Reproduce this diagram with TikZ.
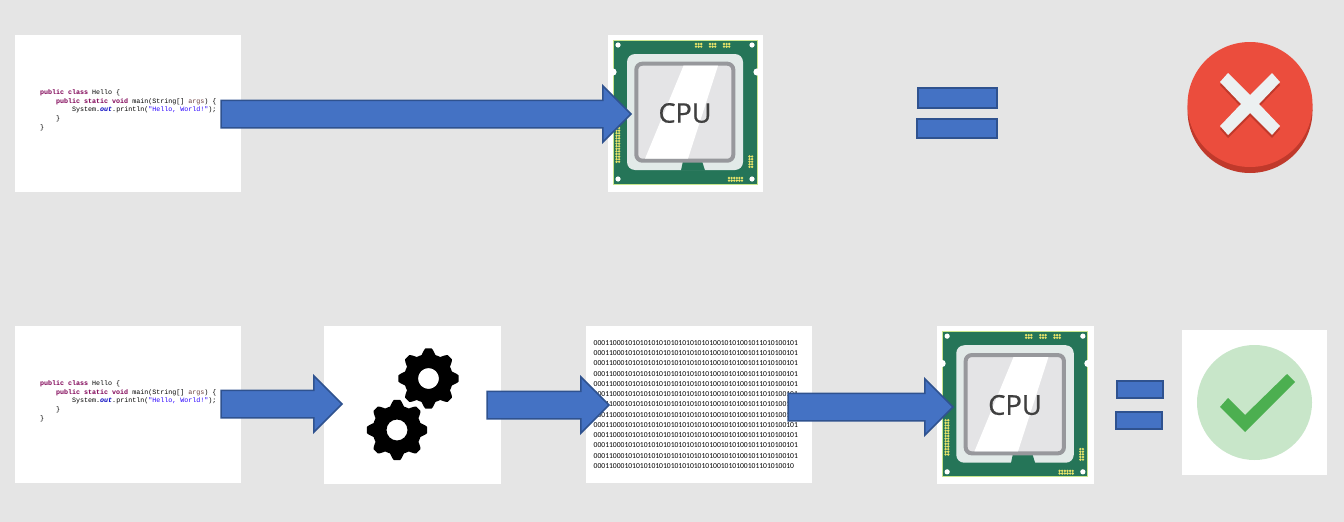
\documentclass[tikz,border=0pt]{standalone}
\usepackage{fontspec}
\setmainfont{Carlito}
\newfontfamily\codefont{Liberation Mono}
\newfontfamily\cpufont[FakeBold=0.7]{Open Sans}
\usetikzlibrary{shapes.arrows}
\definecolor{bgc}{HTML}{E5E5E5}
\definecolor{blockblue}{HTML}{4472C4}
\definecolor{blockedge}{HTML}{2F528F}
\definecolor{kw}{HTML}{7F0055}
\definecolor{vr}{HTML}{6A3E3E}
\definecolor{fld}{HTML}{0000C0}
\definecolor{strc}{HTML}{2A00FF}
\definecolor{pcb}{HTML}{257558}
\definecolor{pcbedge}{HTML}{C8E58C}
\definecolor{plate}{HTML}{E2EAE8}
\definecolor{frameg}{HTML}{97989C}
\definecolor{diec}{HTML}{E4E4E6}
\definecolor{pad}{HTML}{E6E36A}
\definecolor{redc}{HTML}{EB4D3D}
\definecolor{redd}{HTML}{C0392B}
\definecolor{xwhite}{HTML}{ECF0F1}
\definecolor{okl}{HTML}{C8E6C9}
\definecolor{okd}{HTML}{4CAF50}
\tikzset{
  whitebox/.style={fill=white,draw=none,inner sep=0pt,outer sep=0pt},
  blockarrow/.style={shape=single arrow,fill=blockblue,draw=blockedge,line width=1.5pt,inner sep=0pt,outer sep=0pt,
    single arrow head indent=0pt,single arrow tip angle=90,single arrow head extend=14.5pt,anchor=tail},
  eqbar/.style={fill=blockblue,draw=blockedge,line width=1.5pt,inner sep=0pt,outer sep=0pt},
  codetxt/.style={anchor=west,align=left,inner sep=0pt,font=\codefont\fontsize{6.67pt}{8.75pt}\selectfont,text=black},
  bintxt/.style={anchor=west,align=left,inner sep=0pt,font=\fontsize{7.6pt}{10.25pt}\selectfont,text=black},
  cputxt/.style={inner sep=0pt,font=\cpufont\fontsize{27pt}{27pt}\selectfont,text=black!75},
}
\newcommand{\kwd}[1]{\textcolor{kw}{\textbf{#1}}}
\newcommand{\javacode}{\kwd{public class} Hello \{\\
~~~~\kwd{public static void} main(String[] \textcolor{vr}{args}) \{\\
~~~~~~~~System.\textcolor{fld}{\textbf{\textit{out}}}.println(\textcolor{strc}{"Hello, World!"});\\
~~~~\}\\
\}}
\newcommand{\shaftfill}{\rule{0pt}{26pt}}
\newcommand{\padgrid}[4]{% x0,y0,nx,ny
  \foreach \i in {1,...,#3}{\foreach \j in {1,...,#4}{
    \fill[pad] ({#1+(\i-1)*2.6},{#2+(\j-1)*2.6}) circle (1.3pt);}}}
\newcommand{\cpuchip}[4]{% name, x, y, scale
  \begin{scope}[shift={(#2,#3)},scale=#4]
    \fill[pcb,draw=pcbedge,line width=1pt] (5,5) rectangle (149,149);
    \fill[white] (10,10) circle (2.6) (144,10) circle (2.6) (10,144) circle (2.6) (144,144) circle (2.6);
    \fill[white] (5,37) circle (3.6) (149,37) circle (3.6);
    \fill[plate,rounded corners=8pt] (19,19) rectangle (135,135);
    \fill[pcb] (73,135.5) -- (75,126) -- (94,126) -- (97,135.5) -- cycle;
    \fill[diec,draw=frameg,line width=4pt,rounded corners=6pt] (28.3,28.7) rectangle (125.3,125.7);
    \fill[white] (75.5,30.7) -- (110,30.7) -- (80,123.7) -- (37,123.7) -- cycle;
    \node[cputxt,scale=#4] (#1) at (77,78) {CPU};
    \padgrid{88}{9}{3}{2}
    \padgrid{102}{9}{3}{2}
    \padgrid{116}{9}{3}{2}
    \padgrid{8.5}{93}{2}{14}
    \padgrid{141.5}{121.5}{2}{5}
    \padgrid{121}{143}{6}{2}
  \end{scope}}
\newcommand{\gearshape}[2]{% x, y
  \fill[black,even odd rule] plot[domain=0:360,samples=241]
    ({#1+(27.3+2.9*max(-1,min(1,1.5*cos(8*\x))))*cos(\x)},{#2+(27.3+2.9*max(-1,min(1,1.5*cos(8*\x))))*sin(\x)}) -- cycle
    (#1,#2) circle (10.5);}
\begin{document}
\begin{tikzpicture}[x=1pt,y=-1pt]
\useasboundingbox (0,0) rectangle (1344,522);
\fill[bgc] (0,0) rectangle (1344,522);
% white panels
\node[whitebox,minimum width=226pt,minimum height=157pt] (codeA) at (128,113.5) {};
\node[whitebox,minimum width=155pt,minimum height=157pt] (cpuboxA) at (685.5,113.5) {};
\node[whitebox,minimum width=226pt,minimum height=157pt] (codeB) at (128,404.5) {};
\node[whitebox,minimum width=177pt,minimum height=158pt] (gearbox) at (412.5,405) {};
\node[whitebox,minimum width=226pt,minimum height=157pt] (binbox) at (699,404.5) {};
\node[whitebox,minimum width=157pt,minimum height=158pt] (cpuboxB) at (1015.5,405) {};
\node[whitebox,minimum width=145pt,minimum height=145pt] (okbox) at (1254.5,402.5) {};
% contents
\node[codetxt] (codeAtext) at (40,110.2) {\javacode};
\node[codetxt] (codeBtext) at (40,401.2) {\javacode};
\cpuchip{cpuA}{608}{35}{1}
\cpuchip{cpuB}{937}{326}{1.0129}
\gearshape{428.5}{378.5}
\gearshape{397}{430}
\node[bintxt] (bintext) at (593.5,404.5) {00011000101010101010101010101010010101001011010100101\\
00011000101010101010101010101010010101001011010100101\\
00011000101010101010101010101010010101001011010100101\\
00011000101010101010101010101010010101001011010100101\\
00011000101010101010101010101010010101001011010100101\\
00011000101010101010101010101010010101001011010100101\\
00011000101010101010101010101010010101001011010100101\\
00011000101010101010101010101010010101001011010100101\\
00011000101010101010101010101010010101001011010100101\\
00011000101010101010101010101010010101001011010100101\\
00011000101010101010101010101010010101001011010100101\\
00011000101010101010101010101010010101001011010100101\\
0001100010101010101010101010101001010100101101010010};
% red cross icon
\fill[redd] (1250,110.5) circle (62.5);
\fill[redc] (1250,104.5) circle (62.5);
\begin{scope}[shift={(1250,107)}]
  \fill[redd] (0,-9) -- (22,-31) -- (30,-22) -- (9,0) -- (30,22) -- (22,31) -- (0,9) -- (-22,31) -- (-30,22) -- (-9,0) -- (-30,-22) -- (-22,-31) -- cycle;
\end{scope}
\begin{scope}[shift={(1250,104)}]
  \fill[xwhite] (0,-9) -- (22,-31) -- (30,-22) -- (9,0) -- (30,22) -- (22,31) -- (0,9) -- (-22,31) -- (-30,22) -- (-9,0) -- (-30,-22) -- (-22,-31) -- cycle;
\end{scope}
% green check icon
\fill[okl] (1254.5,402.5) circle (57.5);
\fill[okd] (1220,407) -- (1228,398) -- (1245,415) -- (1287,374) -- (1295,382) -- (1245,432) -- cycle;
% block arrows
\node[blockarrow,minimum height=410pt] (arrowA) at (221,114) {\shaftfill};
\node[blockarrow,minimum height=121pt] (arrowB) at (221,404) {\shaftfill};
\node[blockarrow,minimum height=122pt] (arrowC) at (487,405) {\shaftfill};
\node[blockarrow,minimum height=165pt] (arrowD) at (788,407) {\shaftfill};
% equals signs
\node[eqbar,minimum width=79pt,minimum height=20pt] (eqAtop) at (957.5,98) {};
\node[eqbar,minimum width=80pt,minimum height=19pt] (eqAbot) at (957,128.5) {};
\node[eqbar,minimum width=46pt,minimum height=17pt] (eqBtop) at (1140,389.5) {};
\node[eqbar,minimum width=46pt,minimum height=17pt] (eqBbot) at (1139,420.5) {};
\end{tikzpicture}
\end{document}
